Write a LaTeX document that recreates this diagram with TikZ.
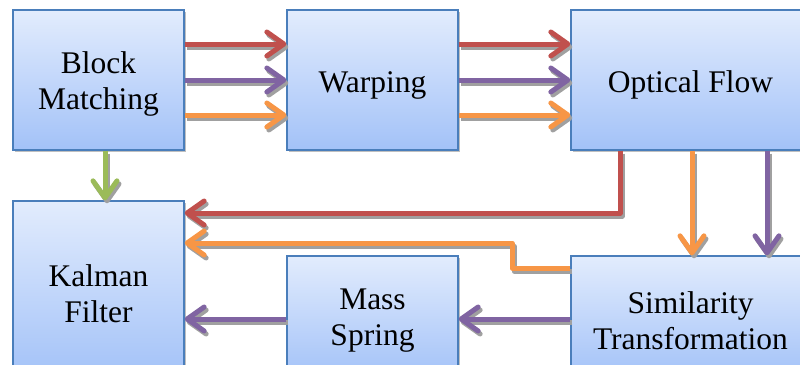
\documentclass[tikz,border=0pt]{standalone}
\usepackage{fontspec}
\setmainfont{Liberation Serif}
\usetikzlibrary{arrows.meta,shadows}
\definecolor{cred}{HTML}{C0504D}
\definecolor{cpurple}{HTML}{8064A2}
\definecolor{corange}{HTML}{F79646}
\definecolor{cgreen}{HTML}{9BBB59}
\definecolor{cborder}{HTML}{4A7EBB}
\definecolor{ctop}{HTML}{E2ECFD}
\definecolor{cbot}{HTML}{A3C2F8}
\definecolor{cshadow}{HTML}{A0A0A0}
\tikzset{
  box/.style={draw=cborder, line width=1.3pt, top color=ctop, bottom color=cbot,
    inner sep=0pt,
    drop shadow={shadow xshift=2pt, shadow yshift=-2pt, fill=black, opacity=0.25}},
  boxtext/.style={align=center, font=\fontsize{31.5}{36}\selectfont, inner sep=0pt},
  tipA/.tip={Straight Barb[length=17pt,width=24pt,round]},
  flow/.style={draw=#1, line width=5pt, -tipA, line join=round,
    preaction={draw=cshadow, line width=5pt, -tipA, line join=round,
      transform canvas={xshift=2pt,yshift=-3pt}}}
}
\begin{document}
\begin{tikzpicture}[x=1pt,y=-1pt]
\useasboundingbox (0,0) rectangle (800,364);
\clip (0,0) rectangle (800,364);
\node[box, minimum width=171pt, minimum height=140pt,
  label={[boxtext, yshift=-4pt]center:{Block\\Matching}}] (bm) at (98.5,80) {};
\node[box, minimum width=171pt, minimum height=140pt,
  label={[boxtext, yshift=-5pt]center:{Warping}}] (wp) at (372.5,80) {};
\node[box, minimum width=239pt, minimum height=140pt,
  label={[boxtext, yshift=-5pt]center:{Optical Flow}}] (of) at (690.5,80) {};
\node[box, minimum width=171pt, minimum height=177pt,
  label={[boxtext, yshift=-4pt]center:{Kalman\\Filter}}] (kf) at (98.5,289.5) {};
\node[box, minimum width=171pt, minimum height=122pt,
  label={[boxtext, yshift=-4pt]center:{Mass\\Spring}}] (ms) at (372.5,317) {};
\node[box, minimum width=239pt, minimum height=122pt,
  label={[boxtext, yshift=-4pt]center:{Similarity\\Transformation}}] (st) at (690.5,317) {};
\coordinate (r1) at (0,44);
\coordinate (p1) at (0,80);
\coordinate (o1) at (0,115);
\coordinate (rr) at (620,213);
\coordinate (oa) at (512,268);
\coordinate (ob) at (512,243);
\coordinate (ov) at (692,0);
\coordinate (pv) at (767,0);
\coordinate (pl) at (0,319);
\coordinate (gx) at (105,0);
% top row
\draw[flow=cred] (bm.east |- r1) -- (wp.west |- r1);
\draw[flow=cpurple] (bm.east |- p1) -- (wp.west |- p1);
\draw[flow=corange] (bm.east |- o1) -- (wp.west |- o1);
\draw[flow=cred] (wp.east |- r1) -- (of.west |- r1);
\draw[flow=cpurple] (wp.east |- p1) -- (of.west |- p1);
\draw[flow=corange] (wp.east |- o1) -- (of.west |- o1);
% green
\draw[flow=cgreen] (gx |- bm.south) -- (gx |- kf.north);
% down arrows
\draw[flow=corange] (ov |- of.south) -- (ov |- st.north);
\draw[flow=cpurple] (pv |- of.south) -- (pv |- st.north);
% return paths
\draw[flow=cred] (rr |- of.south) -- (rr) -- (kf.east |- rr);
\draw[flow=corange] (st.west |- oa) -- (oa) -- (ob) -- (kf.east |- ob);
\draw[flow=cpurple] (st.west |- pl) -- (ms.east |- pl);
\draw[flow=cpurple] (ms.west |- pl) -- (kf.east |- pl);
\end{tikzpicture}
\end{document}
